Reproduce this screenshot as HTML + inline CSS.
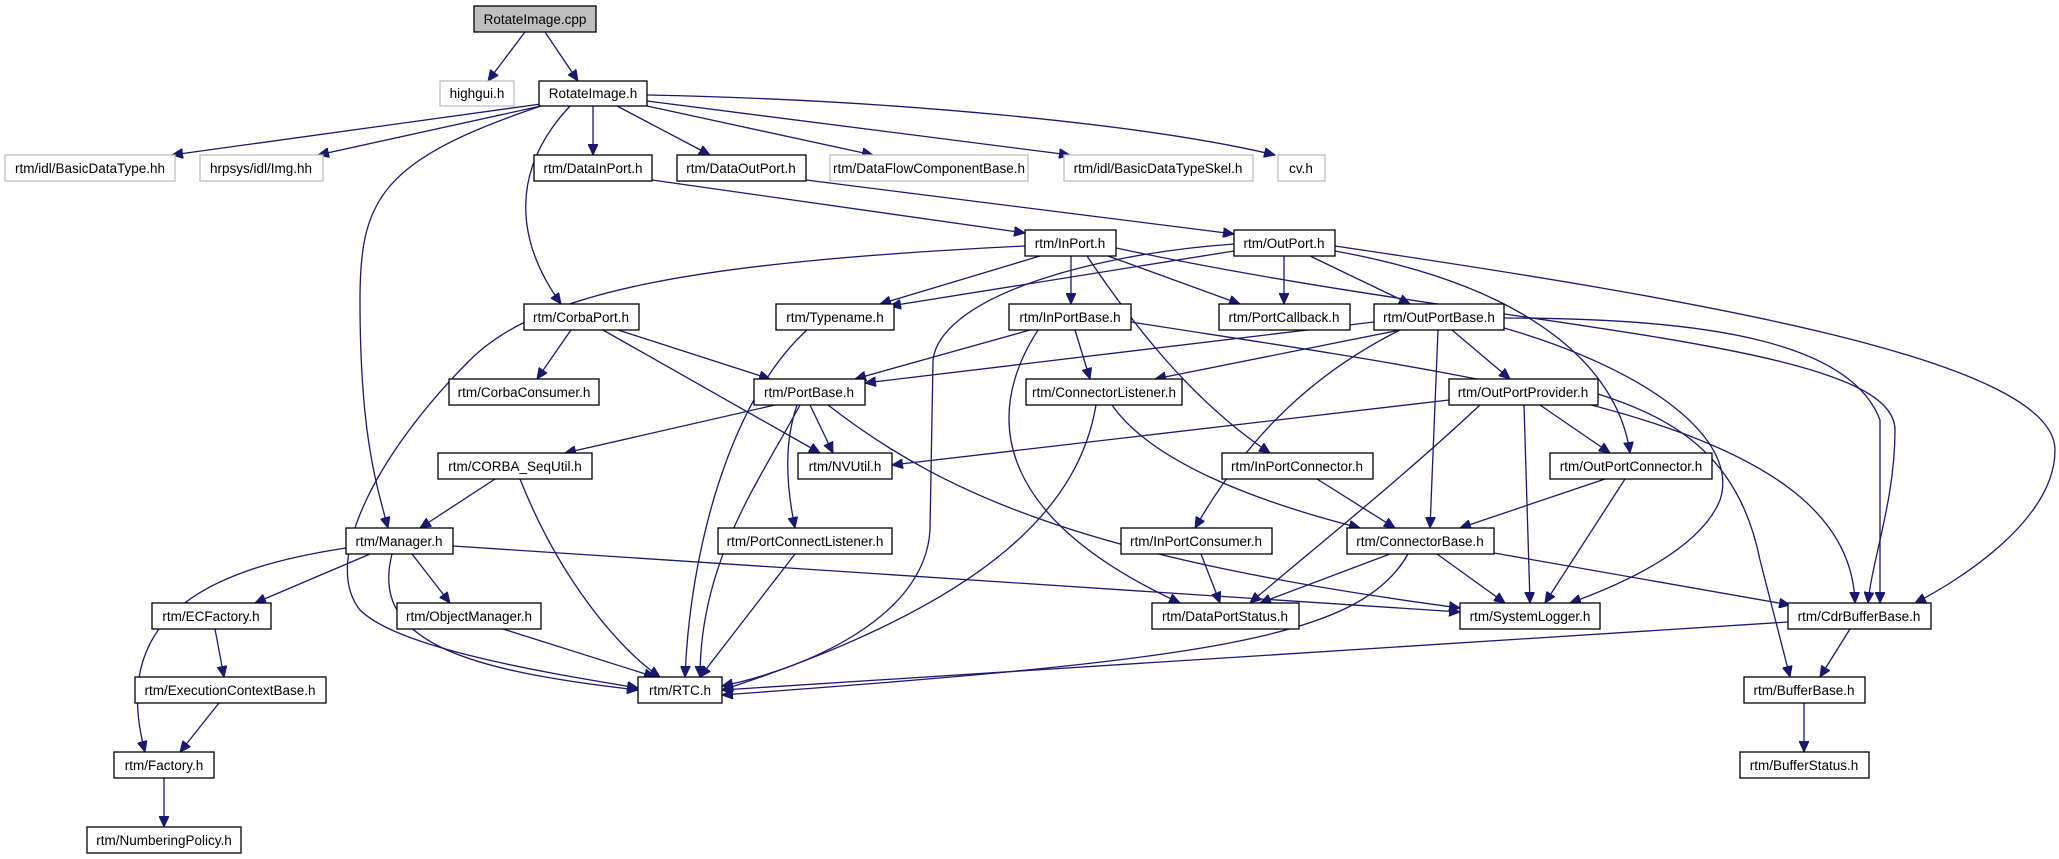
<!DOCTYPE html>
<html><head><meta charset="utf-8">
<style>
html,body{margin:0;padding:0;background:#fff;}
svg{display:block;}
text{font-family:"Liberation Sans",Arial,sans-serif;font-size:13.5px;fill:#000;}
.n{fill:#fff;stroke:#000;stroke-width:1.3;}
.g{fill:#fff;stroke:#bfbfbf;stroke-width:1.3;}
.e{fill:none;stroke:#191970;stroke-width:1.3;}
</style></head><body>
<svg width="2059" height="859" viewBox="0 0 2059 859" xmlns="http://www.w3.org/2000/svg">
<defs>
<marker id="a" markerUnits="userSpaceOnUse" markerWidth="12" markerHeight="10" refX="11" refY="5" orient="auto">
<path d="M0,0 L11,5 L0,10 z" fill="#191970" stroke="#191970"/>
</marker>
</defs>
<g marker-end="url(#a)">
<path class="e" d="M525,32 L488,81"/>
<path class="e" d="M545,32 L578,81"/>
<path class="e" d="M541,104 L172,155"/>
<path class="e" d="M541,106 L318,155"/>
<path class="e" d="M541,106 C380,160 360,200 360,300 C360,430 375,480 388,528"/>
<path class="e" d="M570,106 C510,170 515,240 561,304"/>
<path class="e" d="M593,106 L593,155"/>
<path class="e" d="M617,106 L710,155"/>
<path class="e" d="M647,106 L873,155"/>
<path class="e" d="M647,101 L1070,155"/>
<path class="e" d="M647,95 C900,100 1150,125 1275,155"/>
<path class="e" d="M652,180 L1025,233"/>
<path class="e" d="M806,180 L1234,234"/>
<path class="e" d="M1040,256 L880,304"/>
<path class="e" d="M1071,256 L1071,304"/>
<path class="e" d="M1108,256 L1240,304"/>
<path class="e" d="M1087,256 C1130,320 1190,400 1270,453"/>
<path class="e" d="M1116,248 C1500,330 1895,340 1895,430 C1895,500 1872,560 1868,603"/>
<path class="e" d="M1025,246 C700,262 540,290 470,360 C380,450 320,560 360,610 C400,650 560,675 638,688"/>
<path class="e" d="M1234,244 C1080,255 940,300 933,360 L930,530 C925,620 800,670 722,686"/>
<path class="e" d="M1234,251 L890,306"/>
<path class="e" d="M1284,256 L1284,304"/>
<path class="e" d="M1310,256 L1410,304"/>
<path class="e" d="M1335,251 C1550,290 1620,380 1630,453"/>
<path class="e" d="M1335,246 C1700,300 2055,360 2055,450 C2055,520 1960,580 1915,603"/>
<path class="e" d="M571,330 L537,379"/>
<path class="e" d="M618,330 L770,379"/>
<path class="e" d="M603,330 L820,453"/>
<path class="e" d="M807,330 C730,400 690,550 685,677"/>
<path class="e" d="M1030,330 L855,379"/>
<path class="e" d="M1075,330 L1090,379"/>
<path class="e" d="M1038,330 C980,420 1000,520 1180,603"/>
<path class="e" d="M1131,322 C1500,380 1850,420 1855,603"/>
<path class="e" d="M1374,322 L865,383"/>
<path class="e" d="M1400,330 L1155,379"/>
<path class="e" d="M1400,330 C1300,380 1240,450 1195,528"/>
<path class="e" d="M1438,330 L1430,528"/>
<path class="e" d="M1452,330 L1510,379"/>
<path class="e" d="M1504,328 C1650,370 1740,440 1720,500 C1700,550 1620,585 1570,603"/>
<path class="e" d="M1504,318 C1700,318 1850,340 1880,420 L1880,603"/>
<path class="e" d="M775,405 L565,453"/>
<path class="e" d="M810,405 L833,453"/>
<path class="e" d="M800,405 C760,480 700,560 700,677"/>
<path class="e" d="M797,405 C785,440 785,480 795,528"/>
<path class="e" d="M828,405 C950,500 1100,560 1460,608"/>
<path class="e" d="M1096,405 C1080,500 1000,600 722,690"/>
<path class="e" d="M1112,405 C1150,460 1250,500 1360,528"/>
<path class="e" d="M1449,400 L892,465"/>
<path class="e" d="M1480,405 C1400,480 1300,560 1250,603"/>
<path class="e" d="M1540,405 L1610,453"/>
<path class="e" d="M1524,405 L1530,603"/>
<path class="e" d="M1598,394 C1680,420 1740,460 1760,560 L1790,677"/>
<path class="e" d="M495,479 L420,528"/>
<path class="e" d="M520,479 C560,580 620,650 660,677"/>
<path class="e" d="M1317,479 L1395,528"/>
<path class="e" d="M1605,479 L1460,528"/>
<path class="e" d="M1625,479 L1545,603"/>
<path class="e" d="M370,554 L255,603"/>
<path class="e" d="M412,554 L450,603"/>
<path class="e" d="M392,554 C370,640 460,670 638,690"/>
<path class="e" d="M346,548 C200,570 110,620 145,752"/>
<path class="e" d="M453,546 L1460,612"/>
<path class="e" d="M795,554 L700,677"/>
<path class="e" d="M1201,554 L1220,603"/>
<path class="e" d="M1390,554 L1260,603"/>
<path class="e" d="M1437,554 L1505,603"/>
<path class="e" d="M1408,554 C1360,640 1200,660 722,695"/>
<path class="e" d="M1494,553 L1790,605"/>
<path class="e" d="M215,629 L224,677"/>
<path class="e" d="M503,629 L655,677"/>
<path class="e" d="M219,703 L180,752"/>
<path class="e" d="M1788,622 L722,690"/>
<path class="e" d="M1850,629 L1820,677"/>
<path class="e" d="M1804,703 L1804,752"/>
<path class="e" d="M164,778 L164,827"/>
</g>
<g text-anchor="middle">
<rect x="474" y="6" width="122" height="26" fill="#bfbfbf" stroke="#000" stroke-width="1.3"/><text x="535" y="24">RotateImage.cpp</text>
<rect class="g" x="440" y="81" width="74" height="25"/><text x="477" y="98">highgui.h</text>
<rect class="n" x="539" y="81" width="108" height="25"/><text x="593" y="98">RotateImage.h</text>
<rect class="g" x="5" y="155" width="170" height="26"/><text x="90" y="173">rtm/idl/BasicDataType.hh</text>
<rect class="g" x="200" y="155" width="123" height="26"/><text x="261" y="173">hrpsys/idl/Img.hh</text>
<rect class="n" x="534" y="155" width="118" height="26"/><text x="593" y="173">rtm/DataInPort.h</text>
<rect class="n" x="677" y="155" width="129" height="26"/><text x="741" y="173">rtm/DataOutPort.h</text>
<rect class="g" x="830" y="155" width="198" height="26"/><text x="929" y="173">rtm/DataFlowComponentBase.h</text>
<rect class="g" x="1064" y="155" width="189" height="26"/><text x="1158" y="173">rtm/idl/BasicDataTypeSkel.h</text>
<rect class="g" x="1278" y="155" width="47" height="26"/><text x="1301" y="173">cv.h</text>
<rect class="n" x="1025" y="230" width="91" height="26"/><text x="1070" y="248">rtm/InPort.h</text>
<rect class="n" x="1234" y="230" width="101" height="26"/><text x="1284" y="248">rtm/OutPort.h</text>
<rect class="n" x="524" y="304" width="115" height="26"/><text x="581" y="322">rtm/CorbaPort.h</text>
<rect class="n" x="776" y="304" width="118" height="26"/><text x="835" y="322">rtm/Typename.h</text>
<rect class="n" x="1009" y="304" width="122" height="26"/><text x="1070" y="322">rtm/InPortBase.h</text>
<rect class="n" x="1219" y="304" width="131" height="26"/><text x="1284" y="322">rtm/PortCallback.h</text>
<rect class="n" x="1374" y="304" width="130" height="26"/><text x="1439" y="322">rtm/OutPortBase.h</text>
<rect class="n" x="449" y="379" width="150" height="26"/><text x="524" y="397">rtm/CorbaConsumer.h</text>
<rect class="n" x="754" y="379" width="111" height="26"/><text x="809" y="397">rtm/PortBase.h</text>
<rect class="n" x="1026" y="379" width="156" height="26"/><text x="1104" y="397">rtm/ConnectorListener.h</text>
<rect class="n" x="1449" y="379" width="149" height="26"/><text x="1523" y="397">rtm/OutPortProvider.h</text>
<rect class="n" x="438" y="453" width="154" height="26"/><text x="515" y="471">rtm/CORBA_SeqUtil.h</text>
<rect class="n" x="798" y="453" width="94" height="26"/><text x="845" y="471">rtm/NVUtil.h</text>
<rect class="n" x="1222" y="453" width="151" height="26"/><text x="1297" y="471">rtm/InPortConnector.h</text>
<rect class="n" x="1550" y="453" width="162" height="26"/><text x="1631" y="471">rtm/OutPortConnector.h</text>
<rect class="n" x="346" y="528" width="107" height="26"/><text x="399" y="546">rtm/Manager.h</text>
<rect class="n" x="718" y="528" width="174" height="26"/><text x="805" y="546">rtm/PortConnectListener.h</text>
<rect class="n" x="1121" y="528" width="151" height="26"/><text x="1196" y="546">rtm/InPortConsumer.h</text>
<rect class="n" x="1347" y="528" width="147" height="26"/><text x="1420" y="546">rtm/ConnectorBase.h</text>
<rect class="n" x="152" y="603" width="119" height="26"/><text x="211" y="621">rtm/ECFactory.h</text>
<rect class="n" x="397" y="603" width="144" height="26"/><text x="469" y="621">rtm/ObjectManager.h</text>
<rect class="n" x="1152" y="603" width="147" height="26"/><text x="1225" y="621">rtm/DataPortStatus.h</text>
<rect class="n" x="1460" y="603" width="140" height="26"/><text x="1530" y="621">rtm/SystemLogger.h</text>
<rect class="n" x="1788" y="603" width="143" height="26"/><text x="1859" y="621">rtm/CdrBufferBase.h</text>
<rect class="n" x="135" y="677" width="191" height="26"/><text x="230" y="695">rtm/ExecutionContextBase.h</text>
<rect class="n" x="638" y="677" width="84" height="26"/><text x="680" y="695">rtm/RTC.h</text>
<rect class="n" x="1744" y="677" width="121" height="26"/><text x="1804" y="695">rtm/BufferBase.h</text>
<rect class="n" x="114" y="752" width="100" height="26"/><text x="164" y="770">rtm/Factory.h</text>
<rect class="n" x="1740" y="752" width="129" height="26"/><text x="1804" y="770">rtm/BufferStatus.h</text>
<rect class="n" x="87" y="827" width="154" height="26"/><text x="164" y="845">rtm/NumberingPolicy.h</text>
</g>
</svg>
</body></html>
